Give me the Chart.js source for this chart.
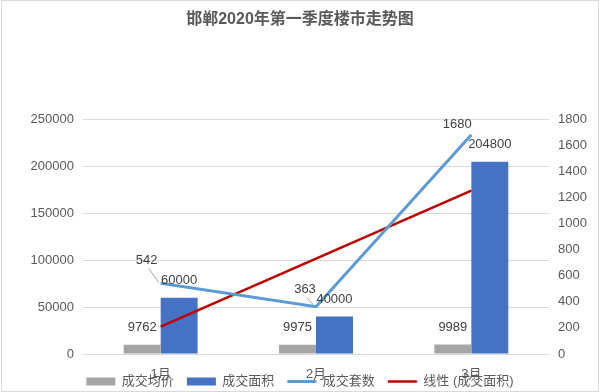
<!DOCTYPE html>
<html>
<head>
<meta charset="utf-8">
<script src="https://cdn.jsdelivr.net/npm/chart.js@4"></script>
<style>
  html, body { margin: 0; padding: 0; background: #fff; }
  #cntr_grafica { width: 600px; height: 392px; }
</style>
</head>
<body>
<div id="cntr_grafica">
  <canvas id="myChart" width="600" height="392"></canvas>
</div>
<script>
// Datos
const meses = ['1月', '2月', '3月'];
const precioMedio = [9762, 9975, 9989];      // 成交均价
const superficie = [60000, 40000, 204800];   // 成交面积
const unidades = [542, 363, 1680];           // 成交套数
const tendencia = [29200, 101600, 174000];   // 线性 (成交面积)

const fuente = '"Liberation Sans", "Noto Sans CJK SC", sans-serif';
const gris = '#595959';

// Fondo blanco y marco fino
const fondo = {
  id: 'fondo',
  beforeDraw(chart) {
    const ctx = chart.ctx;
    ctx.save();
    ctx.fillStyle = '#fff';
    ctx.fillRect(0, 0, chart.width, chart.height);
    ctx.strokeStyle = '#D9D9D9';
    ctx.lineWidth = 1;
    ctx.strokeRect(1.5, 0.5, chart.width - 3, chart.height - 1);
    ctx.restore();
  }
};

// El eje X es muy bajo: ampliamos su zona para que no recorte las etiquetas
const ejeX = {
  id: 'ejeX',
  afterLayout(chart) {
    chart.scales.x.bottom = chart.height;
  }
};

// Etiquetas de valores
const etiquetas = {
  id: 'etiquetas',
  afterDatasetsDraw(chart) {
    const ctx = chart.ctx;
    ctx.save();
    ctx.font = '13px ' + fuente;
    ctx.fillStyle = '#404040';
    ctx.textAlign = 'center';
    ctx.textBaseline = 'middle';

    [0, 1].forEach(i => {
      chart.getDatasetMeta(i).data.forEach((bar, j) => {
        ctx.fillText(chart.data.datasets[i].data[j], bar.x, bar.y - 17);
      });
    });

    // Etiquetas de la línea, movidas como en el original
    const desp = [[-14, -23], [-11, -17], [-14, -10]];
    chart.getDatasetMeta(2).data.forEach((p, j) => {
      const lx = p.x + desp[j][0];
      const ly = p.y + desp[j][1];
      if (j < 2) {
        ctx.strokeStyle = '#A6A6A6';
        ctx.lineWidth = 1;
        ctx.beginPath();
        ctx.moveTo(lx + 2, ly + 8);
        ctx.lineTo(p.x - 2, p.y - 1);
        ctx.stroke();
      }
      ctx.fillText(chart.data.datasets[2].data[j], lx, ly);
    });
    ctx.restore();
  }
};

const sinComas = (v) => String(v);

const ctx = document.getElementById('myChart');
new Chart(ctx, {
  type: 'bar',
  data: {
    labels: meses,
    datasets: [{
      label: '成交均价',
      data: precioMedio,
      backgroundColor: '#A5A5A5',
      borderWidth: 0,
      pointStyle: 'rect',
      yAxisID: 'y',
      order: 2
    }, {
      label: '成交面积',
      data: superficie,
      backgroundColor: '#4472C4',
      borderWidth: 0,
      pointStyle: 'rect',
      yAxisID: 'y',
      order: 2
    }, {
      type: 'line',
      label: '成交套数',
      data: unidades,
      borderColor: '#5B9BD5',
      backgroundColor: '#5B9BD5',
      borderWidth: 3,
      pointRadius: 0,
      pointStyle: 'line',
      yAxisID: 'y1',
      order: 1
    }, {
      type: 'line',
      label: '线性 (成交面积)',
      data: tendencia,
      borderColor: '#C00000',
      backgroundColor: '#C00000',
      borderWidth: 2.5,
      pointRadius: 0,
      pointStyle: 'line',
      yAxisID: 'y',
      order: 1
    }]
  },
  options: {
    responsive: false,
    animation: false,
    layout: { padding: 0 },
    datasets: {
      bar: { categoryPercentage: 0.476, barPercentage: 1 }
    },
    plugins: {
      title: {
        display: true,
        text: '邯郸2020年第一季度楼市走势图',
        color: gris,
        font: { family: fuente, size: 16, weight: 'bold', lineHeight: 1.2 },
        padding: { top: 10, bottom: 90 }
      },
      legend: {
        position: 'bottom',
        maxHeight: 30,
        labels: {
          usePointStyle: true,
          pointStyleWidth: 29,
          boxHeight: 8,
          padding: 13,
          color: gris,
          font: { family: fuente, size: 13 },
          sort: (a, b) => a.datasetIndex - b.datasetIndex
        }
      },
      tooltip: { enabled: false }
    },
    scales: {
      x: {
        grid: { display: false },
        border: { display: false },
        ticks: { color: gris, font: { family: fuente, size: 13 }, padding: 5 },
        afterFit: (scale) => { scale.height = 8; }
      },
      y: {
        position: 'left',
        min: 0,
        max: 250000,
        ticks: { stepSize: 50000, color: gris, font: { family: fuente, size: 13 }, padding: 9, callback: sinComas },
        grid: { color: '#D9D9D9', drawTicks: false },
        border: { display: false },
        afterFit: (scale) => { scale.width = 83; }
      },
      y1: {
        position: 'right',
        min: 0,
        max: 1800,
        ticks: { stepSize: 200, color: gris, font: { family: fuente, size: 13 }, padding: 9, callback: sinComas },
        grid: { display: false, drawTicks: false },
        border: { display: false },
        afterFit: (scale) => { scale.width = 51; }
      }
    }
  },
  plugins: [fondo, ejeX, etiquetas]
});
</script>
</body>
</html>
